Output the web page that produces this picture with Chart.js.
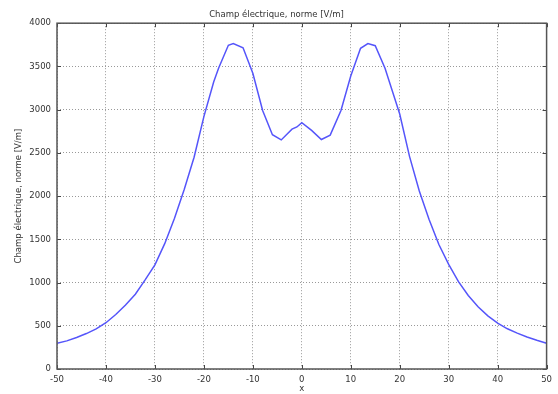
<!DOCTYPE html>
<html>
<head>
<meta charset="utf-8">
<script src="https://cdn.jsdelivr.net/npm/chart.js@4/dist/chart.umd.min.js"></script>
<style>
  html, body { margin: 0; padding: 0; background: #fff; }
  #wrap { width: 558px; height: 394px; }
</style>
</head>
<body>
<div id="wrap"><canvas id="myChart" width="558" height="394"></canvas></div>
<script>
// sampled field magnitude along x
const xs = [-50, -48, -46, -44, -42, -40, -38, -36, -34, -32, -30, -28, -26, -24, -22, -20, -18, -17, -15, -14, -12, -10, -8, -6, -4.2, -2, -1, 0,
    2, 4, 5.8, 8, 10, 12, 13.5, 15, 17, 20, 22, 24, 26, 28, 30, 32, 34, 36, 38, 40, 42, 44, 46, 48, 50]
const norme = [297, 325, 365, 410, 465, 535, 630, 740, 865, 1030, 1205, 1450, 1745, 2080, 2450, 2920, 3320, 3480, 3745, 3765, 3715, 3420, 2990, 2710, 2650, 2775, 2800, 2850,
    2760, 2655, 2705, 2990, 3390, 3710, 3765, 3740, 3480, 2950, 2460, 2060, 1730, 1440, 1210, 1010, 850, 720, 615, 530, 465, 415, 370, 332, 297]
const xTicks = [-50, -40, -30, -20, -10, 0, 10, 20, 30, 40, 50]
const yTicks = [0, 500, 1000, 1500, 2000, 2500, 3000, 3500, 4000]
const titre = "Champ électrique, norme [V/m]"

const points = xs.map((x, i) => ({ x: x, y: norme[i] }))
const tickFont = { family: "DejaVu Sans", size: 8.5 }
const textColor = "#333"

// frame around the plot area with short inward ticks on every side
const frame = {
    id: "frame",
    afterDatasetsDraw(chart) {
        const { ctx, chartArea: a, scales } = chart
        ctx.save()
        ctx.strokeStyle = "#444"
        ctx.lineWidth = 1
        const len = 4
        ctx.beginPath()
        xTicks.forEach(v => {
            const px = Math.round(scales.x.getPixelForValue(v)) + 0.5
            ctx.moveTo(px, a.top); ctx.lineTo(px, a.top + len)
            ctx.moveTo(px, a.bottom); ctx.lineTo(px, a.bottom - len)
        })
        yTicks.forEach(v => {
            const py = Math.round(scales.y.getPixelForValue(v)) + 0.5
            ctx.moveTo(a.left, py); ctx.lineTo(a.left + len, py)
            ctx.moveTo(a.right, py); ctx.lineTo(a.right - len, py)
        })
        ctx.stroke()
        ctx.lineWidth = 1.5
        ctx.strokeStyle = "#555"
        ctx.strokeRect(a.left, a.top, a.right - a.left, a.bottom - a.top)
        ctx.restore()
    }
}

const ctx1 = document.getElementById("myChart").getContext("2d")

new Chart(ctx1, {
    type: "line",
    data: {
        datasets: [{
            data: points,
            borderColor: "rgb(85, 85, 250)",
            borderWidth: 1.5,
            pointRadius: 0,
            tension: 0,
            fill: false
        }]
    },
    options: {
        responsive: false,
        animation: false,
        layout: { padding: { right: 5 } },
        plugins: {
            legend: { display: false },
            tooltip: { enabled: false },
            title: {
                display: true,
                text: titre,
                color: textColor,
                font: { family: "DejaVu Sans", size: 8.5, weight: "normal" },
                padding: { top: 10, bottom: 3 }
            }
        },
        scales: {
            x: {
                type: "linear",
                min: -50,
                max: 50,
                afterBuildTicks: s => { s.ticks = xTicks.map(v => ({ value: v })) },
                afterFit: s => { s.height = 25 },
                ticks: { color: textColor, font: tickFont, padding: 6, maxRotation: 0, callback: v => String(v) },
                grid: { color: "#999", drawTicks: false },
                border: { display: false, dash: [1, 2] },
                title: { display: true, text: "x", color: textColor, font: tickFont, padding: { top: 0, bottom: 0 } }
            },
            y: {
                min: 0,
                max: 4000,
                afterBuildTicks: s => { s.ticks = yTicks.map(v => ({ value: v })) },
                afterFit: s => { s.width = 57 },
                ticks: { color: textColor, font: tickFont, padding: 6, callback: v => String(v) },
                grid: { color: "#999", drawTicks: false },
                border: { display: false, dash: [1, 2] },
                title: { display: true, text: titre, color: textColor, font: tickFont, padding: { top: 14, bottom: 0 } }
            }
        }
    },
    plugins: [frame]
})
</script>
</body>
</html>
